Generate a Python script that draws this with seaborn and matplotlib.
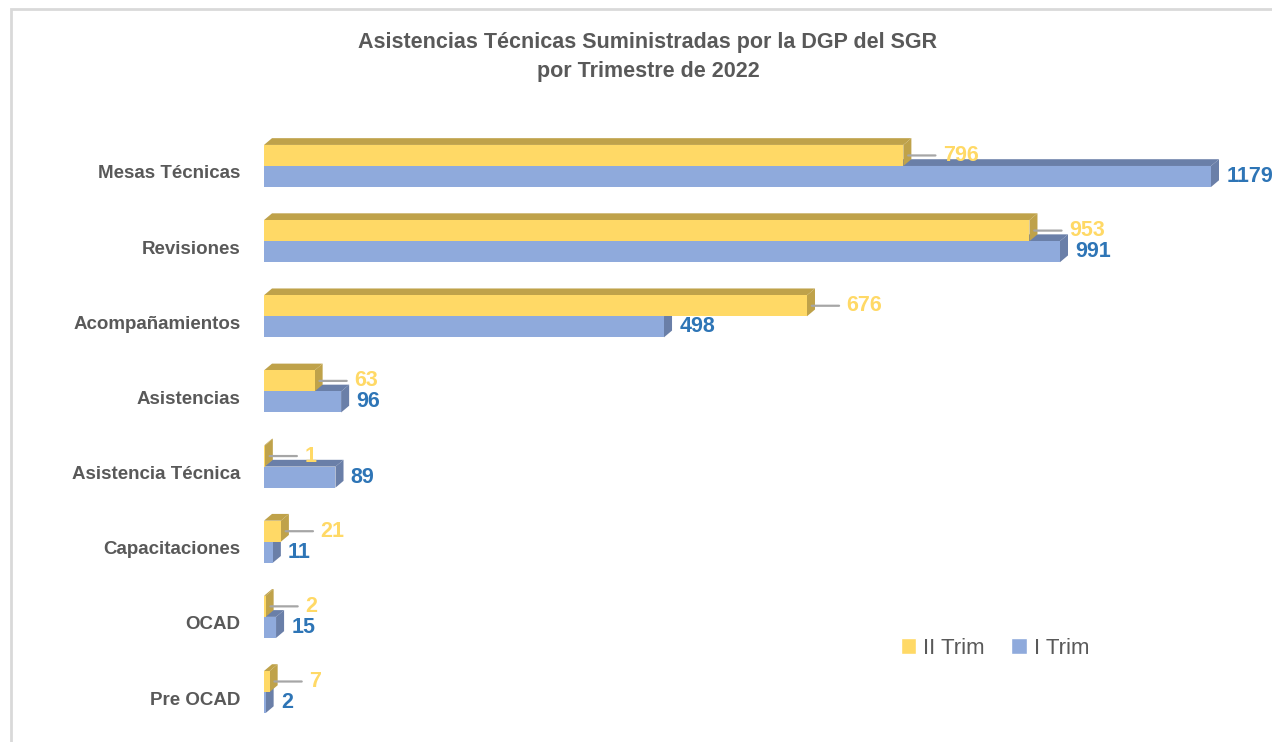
import matplotlib
matplotlib.use("Agg")
import matplotlib.pyplot as plt
import matplotlib.transforms as mtransforms
from matplotlib.patches import Polygon, Rectangle
import pandas as pd
import seaborn as sns

categorias = [
    "Mesas Técnicas",
    "Revisiones",
    "Acompañamientos",
    "Asistencias",
    "Asistencia Técnica",
    "Capacitaciones",
    "OCAD",
    "Pre OCAD",
]
ii_trim = [796, 953, 676, 63, 1, 21, 2, 7]
i_trim = [1179, 991, 498, 96, 89, 11, 15, 2]
series = ["II Trim", "I Trim"]

COLORS = {"II Trim": "#FFD966", "I Trim": "#8FAADC"}
DARK = {"II Trim": "#BFA24A", "I Trim": "#6A7FA8"}
LABEL_COLORS = {"II Trim": "#FFD966", "I Trim": "#2E75B6"}
TEXT_GRAY = "#595959"

df = pd.DataFrame({
    "Categoria": categorias * 2,
    "Serie": [series[0]] * len(ii_trim) + [series[1]] * len(i_trim),
    "Valor": ii_trim + i_trim,
})

sns.set_style("white")
plt.rcParams["font.family"] = ["Liberation Sans", "DejaVu Sans"]

fig = plt.figure(figsize=(12.72, 7.42), dpi=100)
ax = fig.add_axes([264 / 1272, 1 - 729.6 / 742, 1004 / 1272, (729.6 - 128.4) / 742])

sns.barplot(
    data=df,
    y="Categoria",
    x="Valor",
    hue="Serie",
    hue_order=series,
    palette=COLORS,
    orient="h",
    width=0.56,
    saturation=1,
    errorbar=None,
    ax=ax,
)
handles, labels = ax.get_legend_handles_labels()
ax.get_legend().remove()

ax.set_xlim(0, 1250)
ax.set_ylim(len(categorias) - 0.5, -0.5)

# fake 3D depth (top + side faces)
dx = 10
dy = 0.09
z_face = {"II Trim": 4, "I Trim": 2}
for container, serie in zip(ax.containers, series):
    for bar in container:
        x0, y0 = bar.get_x(), bar.get_y()
        w, h = bar.get_width(), bar.get_height()
        x1 = x0 + w
        top = Polygon([(x0, y0), (x0 + dx, y0 - dy), (x1 + dx, y0 - dy), (x1, y0)],
                      closed=True, facecolor=DARK[serie], edgecolor="none",
                      zorder=z_face[serie] - 1)
        side = Polygon([(x1, y0), (x1 + dx, y0 - dy), (x1 + dx, y0 + h - dy), (x1, y0 + h)],
                       closed=True, facecolor=DARK[serie], edgecolor="none",
                       zorder=z_face[serie] - 1)
        ax.add_patch(top)
        ax.add_patch(side)
        bar.set_zorder(z_face[serie])
        bar.set_edgecolor("none")

        yc = y0 + h / 2
        if serie == "II Trim":
            ax.annotate(
                f"{int(w)}", xy=(x1 + dx * 0.6, yc), xytext=(25, 0),
                textcoords="offset points", ha="left", va="center",
                fontsize=15.5, fontweight="bold", color=LABEL_COLORS[serie],
                arrowprops=dict(arrowstyle="-", color="#A6A6A6", lw=1.6,
                                shrinkA=3, shrinkB=0),
                zorder=6,
            )
        else:
            ax.annotate(
                f"{int(w)}", xy=(x1, yc), xytext=(11, 0),
                textcoords="offset points", ha="left", va="center",
                fontsize=15.5, fontweight="bold", color=LABEL_COLORS[serie],
                zorder=6,
            )

ax.set_xlabel("")
ax.set_ylabel("")
ax.set_xticks([])
ax.tick_params(axis="y", length=0, pad=17, labelsize=13.5, labelcolor=TEXT_GRAY)
shift = mtransforms.ScaledTranslation(0, -6 / 100, fig.dpi_scale_trans)
for lab in ax.get_yticklabels():
    lab.set_fontweight("bold")
    lab.set_transform(lab.get_transform() + shift)
sns.despine(ax=ax, left=True, bottom=True)

fig.text(648 / 1272, 1 - 57 / 742,
         "Asistencias Técnicas Suministradas por la DGP del SGR\npor Trimestre de 2022",
         ha="center", va="center", fontsize=15.5, fontweight="bold", color=TEXT_GRAY,
         linespacing=1.45)

fig.legend(handles, labels, loc="center", bbox_to_anchor=(995 / 1272, 1 - 648 / 742),
           ncol=2, frameon=False, handlelength=0.7, handleheight=0.7,
           handletextpad=0.3, columnspacing=1.2, fontsize=16, labelcolor=TEXT_GRAY)

fig.add_artist(Rectangle((11 / 1272, -0.1), 1.2, 1 - 9 / 742 + 0.1,
                         transform=fig.transFigure, fill=False,
                         edgecolor="#D9D9D9", lw=2))

fig.savefig("out.png", dpi=100)
